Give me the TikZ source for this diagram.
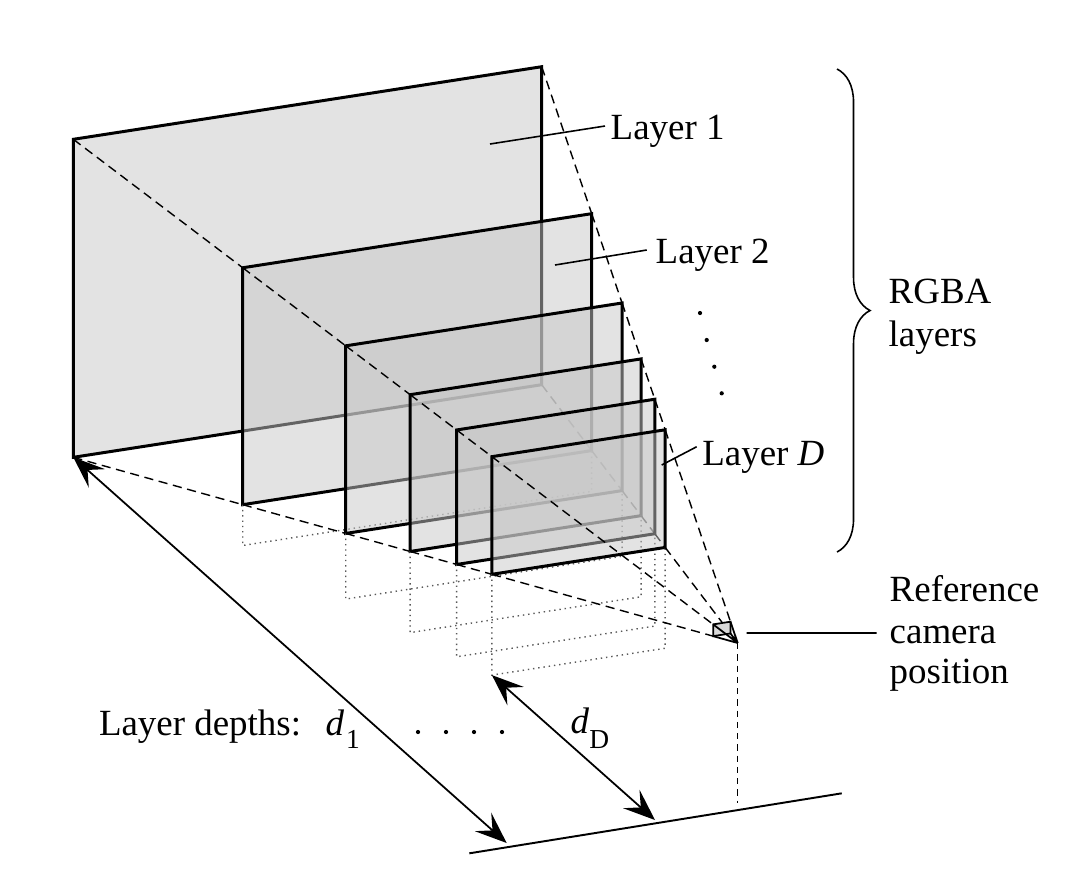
\documentclass[tikz,border=0pt]{standalone}
\usepackage{fontspec}
\setmainfont{Liberation Serif}
\usetikzlibrary{arrows.meta}
\usetikzlibrary{calc}
\usetikzlibrary{decorations.pathreplacing}

\begin{document}
\begin{tikzpicture}[x = 0.01cm, y = -0.01cm]
	\tikzstyle{layerStyle} = [draw, line width = 0.85pt, fill = black!22, fill opacity = 0.5, line join = miter]
	\tikzstyle{rayStyle} = [line width = 0.4pt, dash pattern = on 2.6pt off 1.6pt]
	\tikzstyle{floorStyle} = [line width = 0.4pt, black!65, dash pattern = on 0.4pt off 1.1pt]
	\tikzstyle{leaderStyle} = [line width = 0.45pt]
	\tikzstyle{depthStyle} = [line width = 0.5pt, {Stealth[length = 9pt, width = 7pt, inset = 3.6pt]}-{Stealth[length = 9pt, width = 7pt, inset = 3.6pt]}]
	\tikzstyle{textStyle} = [inner sep = 0pt, anchor = base west, font = \fontsize{10.5}{12.3}\selectfont]
	\useasboundingbox (0,0) rectangle (1080,878);
	\coordinate (C) at (737.7,643);
	\coordinate (G) at (737.7,803);
	\coordinate (tl1) at (73.3,139.3);
	\coordinate (tr1) at (541.7,66.7);
	\coordinate (br1) at (541.7,384.7);
	\coordinate (bl1) at (73.3,457.3);
	\foreach \k/\s in {2/0.745, 3/0.59, 4/0.493, 5/0.423, 6/0.37, c/0.037} {
		\coordinate (tl\k) at ($(C)!\s!(tl1)$);
		\coordinate (tr\k) at ($(C)!\s!(tr1)$);
		\coordinate (br\k) at ($(C)!\s!(br1)$);
		\coordinate (bl\k) at ($(C)!\s!(bl1)$);
		\coordinate (fl\k) at ($(G)!\s!(bl1)$);
		\coordinate (fr\k) at ($(G)!\s!(br1)$);
	}
	\foreach \k/\n in {1/2, 2/3, 3/4, 4/5, 5/6, 6/c} {
		\draw[layerStyle] (tl\k) -- (tr\k) -- (br\k) -- (bl\k) -- cycle;
		\ifnum\k>1
			\draw[floorStyle] (bl\k) -- (fl\k) -- (fr\k) -- (br\k);
		\fi
		\draw[rayStyle] (tl\k) -- (tl\n) (tr\k) -- (tr\n) (br\k) -- (br\n) (bl\k) -- (bl\n);
	}
	\draw[line width = 0.5pt, fill = black!15] (tlc) -- (trc) -- (brc) -- (blc) -- cycle;
	\draw[line width = 0.5pt] (tlc) -- (C) (trc) -- (C) (brc) -- (C) (blc) -- (C);
	\draw[rayStyle, dash pattern = on 1.8pt off 1.4pt] (C) -- (G);
	\coordinate (gl) at (469.3,853.3);
	\coordinate (gr) at (841.7,793.3);
	\draw[line width = 0.55pt] (gl) -- (gr);
	\coordinate (g1) at (506.7,843);
	\coordinate (gD) at (655,820);
	\draw[depthStyle] (bl1) -- (g1);
	\draw[depthStyle] (fl6) -- (gD);
	\coordinate (bt) at (837,69);
	\coordinate (bb) at (837,552);
	\draw[line width = 0.45pt, decorate, decoration = {brace, amplitude = 0.33cm}] (bt) -- (bb);
	\node[textStyle] (lab1) at (610,139.3) {Layer 1};
	\node[textStyle] (lab2) at (655,263.3) {Layer 2};
	\node[textStyle] (labD) at (701.7,465) {Layer \textit{D}};
	\node[textStyle] (rgba1) at (888,303.3) {RGBA};
	\node[textStyle] (rgba2) at (888,346.7) {layers};
	\node[textStyle] (cam1) at (889,601.7) {Reference};
	\node[textStyle] (cam2) at (889,643) {camera};
	\node[textStyle] (cam3) at (889,683) {position};
	\node[textStyle] (depths) at (98.3,735) {Layer depths:};
	\node[textStyle] (d1) at (325,735) {\textit{d}\kern0.5pt\raisebox{-3.8pt}{\fontsize{7.8}{8}\selectfont 1}};
	\node[textStyle] (dD) at (570,733.3) {\textit{d}\raisebox{-4.3pt}{\fontsize{7.8}{8}\selectfont D}};
	\coordinate (p1) at (490,144);
	\coordinate (q1) at (605,126);
	\coordinate (p2) at (555,265);
	\coordinate (q2) at (646.7,250);
	\coordinate (pD) at (661.7,465);
	\coordinate (qD) at (696.7,446.7);
	\coordinate (pc) at (746.7,633);
	\coordinate (qc) at (876.7,633);
	\draw[leaderStyle] (p1) -- (q1) (p2) -- (q2) (pD) -- (qD) (pc) -- (qc);
	\foreach \x/\y in {700/313, 706.7/340, 714.3/366.7, 721.7/393.3, 418/732, 446/732, 474/732, 502/732}
		\fill (\x,\y) circle (0.6pt);
\end{tikzpicture}
\end{document}
